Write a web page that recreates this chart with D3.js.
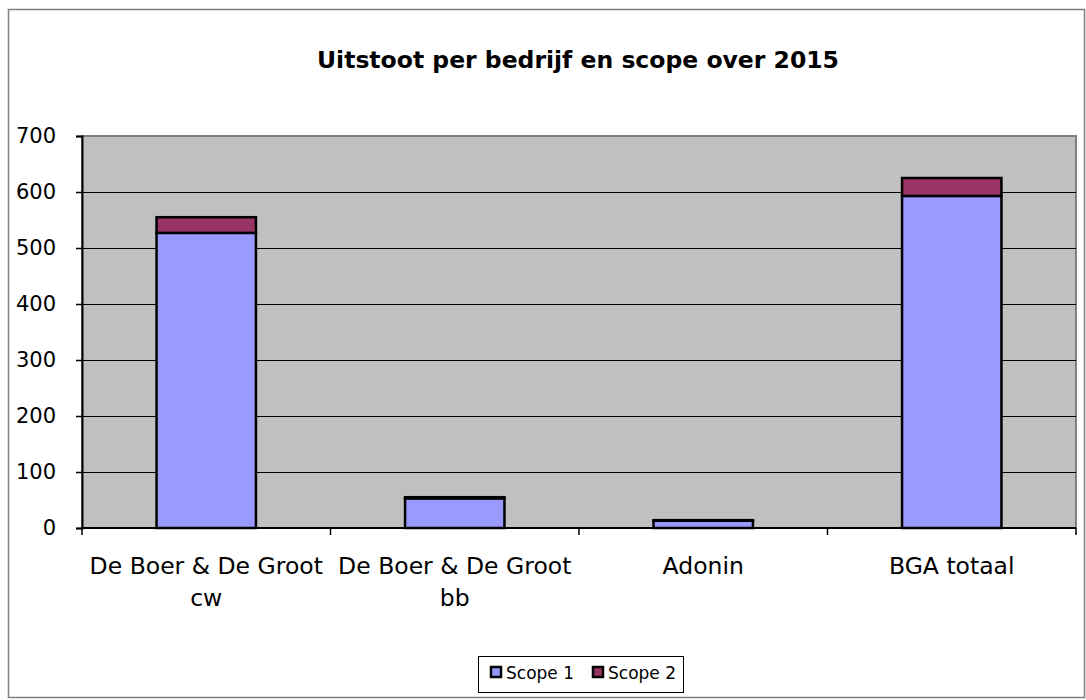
<!DOCTYPE html>
<html>
<head>
<meta charset="utf-8">
<script src="https://cdn.jsdelivr.net/npm/d3@7"></script>
<style>
  body { margin: 0; background: #fff; }
  text { font-family: Tahoma, "DejaVu Sans", sans-serif; }
</style>
</head>
<body>
<div id="chart"></div>
<script>
const categories = [["De Boer & De Groot", "cw"], ["De Boer & De Groot", "bb"], ["Adonin"], ["BGA totaal"]];
const series = ["Scope 1", "Scope 2"];
const scope1 = [527, 53, 13, 593];
const scope2 = [28, 2, 1, 32];
const yTicks = [0, 100, 200, 300, 400, 500, 600, 700];
const colors = ["#9999ff", "#993366"];

const width = 1086;
const height = 700;
const plot = { left: 82, right: 1076, top: 136, bottom: 528 };

const svg = d3.select("#chart").append("svg")
  .attr("width", width)
  .attr("height", height);

// outer frame
svg.append("rect")
  .attr("x", 8.5).attr("y", 9.5)
  .attr("width", 1076).attr("height", 688)
  .attr("fill", "#fff")
  .attr("stroke", "#808080")
  .attr("stroke-width", 1.5);

svg.append("text")
  .attr("x", 578)
  .attr("y", 68)
  .attr("text-anchor", "middle")
  .attr("font-size", 23.5)
  .attr("font-weight", "bold")
  .text("Uitstoot per bedrijf en scope over 2015");

const x = d3.scaleBand()
  .domain(d3.range(categories.length))
  .range([plot.left, plot.right])
  .paddingInner(0)
  .paddingOuter(0);

const y = d3.scaleLinear()
  .domain([0, 700])
  .range([plot.bottom, plot.top]);

// plot background
svg.append("rect")
  .attr("x", plot.left).attr("y", plot.top)
  .attr("width", plot.right - plot.left)
  .attr("height", plot.bottom - plot.top)
  .attr("fill", "#c0c0c0")
  .attr("stroke", "#808080")
  .attr("stroke-width", 2);

// gridlines
svg.selectAll("line.grid")
  .data(yTicks.slice(1, -1))
  .enter()
  .append("line")
  .attr("class", "grid")
  .attr("x1", plot.left)
  .attr("x2", plot.right)
  .attr("y1", (d) => Math.round(y(d)) + 0.5)
  .attr("y2", (d) => Math.round(y(d)) + 0.5)
  .attr("stroke", "#000");

// stacked bars
const data = categories.map((c, i) => ({ i, s1: scope1[i], s2: scope2[i] }));
const stack = d3.stack().keys(["s1", "s2"])(data);
const barW = x.bandwidth() * 0.4;

svg.selectAll("g.layer")
  .data(stack)
  .enter()
  .append("g")
  .attr("fill", (d, k) => colors[k])
  .selectAll("rect")
  .data((d) => d)
  .enter()
  .append("rect")
  .attr("x", (d) => x(d.data.i) + (x.bandwidth() - barW) / 2)
  .attr("y", (d) => y(d[1]))
  .attr("width", barW)
  .attr("height", (d) => y(d[0]) - y(d[1]))
  .attr("stroke", "#000")
  .attr("stroke-width", 2.5);

// y axis
const yAxis = svg.append("g")
  .attr("transform", `translate(${plot.left},0)`)
  .call(d3.axisLeft(y).tickValues(yTicks).tickSize(6).tickPadding(20));
yAxis.select(".domain").attr("stroke", "#000").attr("stroke-width", 2);
yAxis.selectAll(".tick line").attr("stroke-width", 1.5);
yAxis.selectAll("text").attr("font-size", 21).attr("fill", "#000");

// x axis
const xAxisG = svg.append("g")
  .attr("transform", `translate(0,${plot.bottom})`);
xAxisG.append("line")
  .attr("x1", plot.left).attr("x2", plot.right)
  .attr("stroke", "#000").attr("stroke-width", 2);
xAxisG.selectAll("line.tick")
  .data(d3.range(categories.length + 1))
  .enter()
  .append("line")
  .attr("class", "tick")
  .attr("x1", (d) => (d < categories.length ? x(d) : plot.right))
  .attr("x2", (d) => (d < categories.length ? x(d) : plot.right))
  .attr("y1", 0).attr("y2", 7)
  .attr("stroke", "#000").attr("stroke-width", 1.5);

const labels = xAxisG.selectAll("text.cat")
  .data(categories)
  .enter()
  .append("text")
  .attr("class", "cat")
  .attr("text-anchor", "middle")
  .attr("font-size", 23.5)
  .attr("x", (d, i) => x(i) + x.bandwidth() / 2)
  .attr("y", 46);
labels.selectAll("tspan")
  .data((d) => d)
  .enter()
  .append("tspan")
  .attr("x", function () { return this.parentNode.getAttribute("x"); })
  .attr("dy", (d, k) => (k === 0 ? 0 : 32))
  .text((d) => d);

// legend
const legend = svg.append("g");
legend.append("rect")
  .attr("x", 478.5).attr("y", 656.5)
  .attr("width", 205).attr("height", 36)
  .attr("fill", "#fff").attr("stroke", "#000");
const items = legend.selectAll("g.item")
  .data(series)
  .enter()
  .append("g")
  .attr("transform", (d, i) => `translate(${491 + i * 102},667)`);
items.append("rect")
  .attr("width", 10).attr("height", 10)
  .attr("fill", (d, i) => colors[i])
  .attr("stroke", "#000").attr("stroke-width", 2.5);
items.append("text")
  .attr("x", 15).attr("y", 12)
  .attr("font-size", 17)
  .text((d) => d);
</script>
</body>
</html>
